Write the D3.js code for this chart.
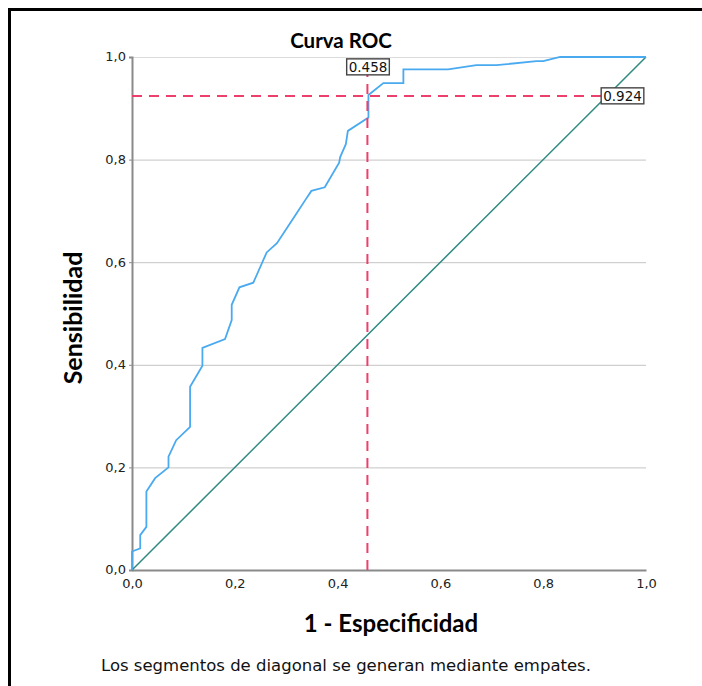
<!DOCTYPE html>
<html>
<head>
<meta charset="utf-8">
<script src="https://cdn.jsdelivr.net/npm/d3@7"></script>
<style>
  body { margin: 0; background: #fff; }
  svg text { font-family: "DejaVu Sans", sans-serif; }
</style>
</head>
<body>
<script>

/* ROC points */
var fpr = [0, 0, 0.016, 0.016, 0.028, 0.028, 0.045, 0.071, 0.071, 0.086, 0.113, 0.113,
  0.137, 0.137, 0.181, 0.194, 0.194, 0.209, 0.236, 0.262, 0.282, 0.320, 0.337,
  0.349, 0.375, 0.403, 0.405, 0.416, 0.420, 0.460, 0.460, 0.489, 0.528, 0.528,
  0.615, 0.670, 0.709, 0.787, 0.800, 0.833, 1.0];
var tpr = [0, 0.036, 0.042, 0.068, 0.084, 0.153, 0.179, 0.200, 0.221, 0.253, 0.279, 0.357,
  0.398, 0.433, 0.450, 0.487, 0.517, 0.551, 0.560, 0.619, 0.637, 0.695, 0.721,
  0.739, 0.746, 0.794, 0.805, 0.830, 0.856, 0.882, 0.926, 0.949, 0.949, 0.976,
  0.976, 0.984, 0.984, 0.992, 0.992, 1.0, 1.0];

var cutX = 0.458;
var cutY = 0.924;
var ticks = [0, 0.2, 0.4, 0.6, 0.8, 1.0];

var title = "Curva ROC";
var xTitle = "1 - Especificidad";
var yTitle = "Sensibilidad";
var note = "Los segmentos de diagonal se generan mediante empates.";

var W = 702, H = 686;
var svg = d3.select("body").append("svg")
  .attr("width", W)
  .attr("height", H);

/* outer frame (top and left edges visible) */
svg.append("line").attr("x1", 8).attr("x2", W).attr("y1", 9.5).attr("y2", 9.5)
  .attr("stroke", "#000").attr("stroke-width", 3);
svg.append("line").attr("x1", 9.5).attr("x2", 9.5).attr("y1", 8).attr("y2", H)
  .attr("stroke", "#000").attr("stroke-width", 3);

var x = d3.scaleLinear().domain([0, 1]).range([132, 646]);
var y = d3.scaleLinear().domain([0, 1]).range([570, 57]);

var fmt = function (d) { return d3.format(".1f")(d).replace(".", ","); };

/* grid lines */
svg.append("g").selectAll("line")
  .data(ticks.slice(1))
  .enter().append("line")
  .attr("x1", x(0)).attr("x2", x(1))
  .attr("y1", function (d) { return y(d) + 0.5; })
  .attr("y2", function (d) { return y(d) + 0.5; })
  .attr("stroke", function (d) { return d == 1 ? "#dcdcdc" : "#c4c4c4"; })
  .attr("stroke-width", 1);

/* axes */
var yAxis = d3.axisLeft(y).tickValues(ticks).tickFormat(fmt).tickSize(3).tickPadding(3);
var yg = svg.append("g").attr("transform", "translate(" + x(0) + ",0)").call(yAxis);
var xAxis = d3.axisBottom(x).tickValues(ticks).tickFormat(fmt).tickSize(0).tickPadding(9);
var xg = svg.append("g").attr("transform", "translate(0," + y(0) + ")").call(xAxis);

[yg, xg].forEach(function (g) {
  g.select(".domain").attr("stroke", "#8a8a8a").attr("stroke-width", 2);
  g.selectAll(".tick line").attr("stroke", "#8a8a8a");
  g.selectAll(".tick text").attr("fill", "#222").style("font-size", "13px");
});
yg.selectAll(".tick text").attr("dy", "0.3em");

/* diagonal reference */
svg.append("line")
  .attr("x1", x(0)).attr("y1", y(0)).attr("x2", x(1)).attr("y2", y(1))
  .attr("stroke", "#2f8a80").attr("stroke-width", 1.5);

/* ROC curve */
var line = d3.line()
  .x(function (d) { return x(d[0]); })
  .y(function (d) { return y(d[1]); });
svg.append("path")
  .datum(d3.zip(fpr, tpr))
  .attr("d", line)
  .attr("fill", "none")
  .attr("stroke", "#4aaaf0")
  .attr("stroke-width", 1.8);

/* cut-off lines */
svg.append("line")
  .attr("x1", x(cutX)).attr("x2", x(cutX)).attr("y1", y(0)).attr("y2", y(1) + 16)
  .attr("stroke", "#ec3f6c").attr("stroke-width", 2).attr("stroke-dasharray", "10,7");
svg.append("line")
  .attr("x1", x(0)).attr("x2", x(1) - 44).attr("y1", y(cutY)).attr("y2", y(cutY))
  .attr("stroke", "#ec3f6c").attr("stroke-width", 2).attr("stroke-dasharray", "10,7");

/* value labels in boxes */
function boxLabel(cx, cy, txt) {
  var g = svg.append("g");
  var t = g.append("text")
    .attr("x", cx).attr("y", cy)
    .attr("text-anchor", "middle")
    .attr("dy", "0.36em")
    .style("font-size", "13.5px")
    .attr("fill", "#111")
    .text(txt);
  var b = t.node().getBBox();
  g.insert("rect", "text")
    .attr("x", b.x - 2).attr("y", b.y)
    .attr("width", b.width + 4).attr("height", b.height)
    .attr("fill", "#fff").attr("stroke", "#444").attr("stroke-width", 1.4);
}
boxLabel(368, 67, cutX.toFixed(3));
boxLabel(622.5, y(cutY), cutY.toFixed(3));

/* titles */
svg.append("text")
  .attr("x", 341).attr("y", 48)
  .attr("text-anchor", "middle")
  .style("font-family", "Lato, sans-serif")
  .style("font-weight", "bold")
  .style("font-size", "20.5px")
  .text(title);

svg.append("text")
  .attr("x", 391).attr("y", 632)
  .attr("text-anchor", "middle")
  .style("font-family", "Lato, sans-serif")
  .style("font-weight", "bold")
  .style("font-size", "24px")
  .text(xTitle);

svg.append("text")
  .attr("transform", "translate(82,318) rotate(-90)")
  .attr("text-anchor", "middle")
  .style("font-family", "Lato, sans-serif")
  .style("font-weight", "bold")
  .style("font-size", "25px")
  .text(yTitle);

svg.append("text")
  .attr("x", 101).attr("y", 671)
  .style("font-family", "'DejaVu Sans', sans-serif")
  .style("font-size", "16.5px")
  .attr("fill", "#111")
  .text(note);

</script>
</body>
</html>
